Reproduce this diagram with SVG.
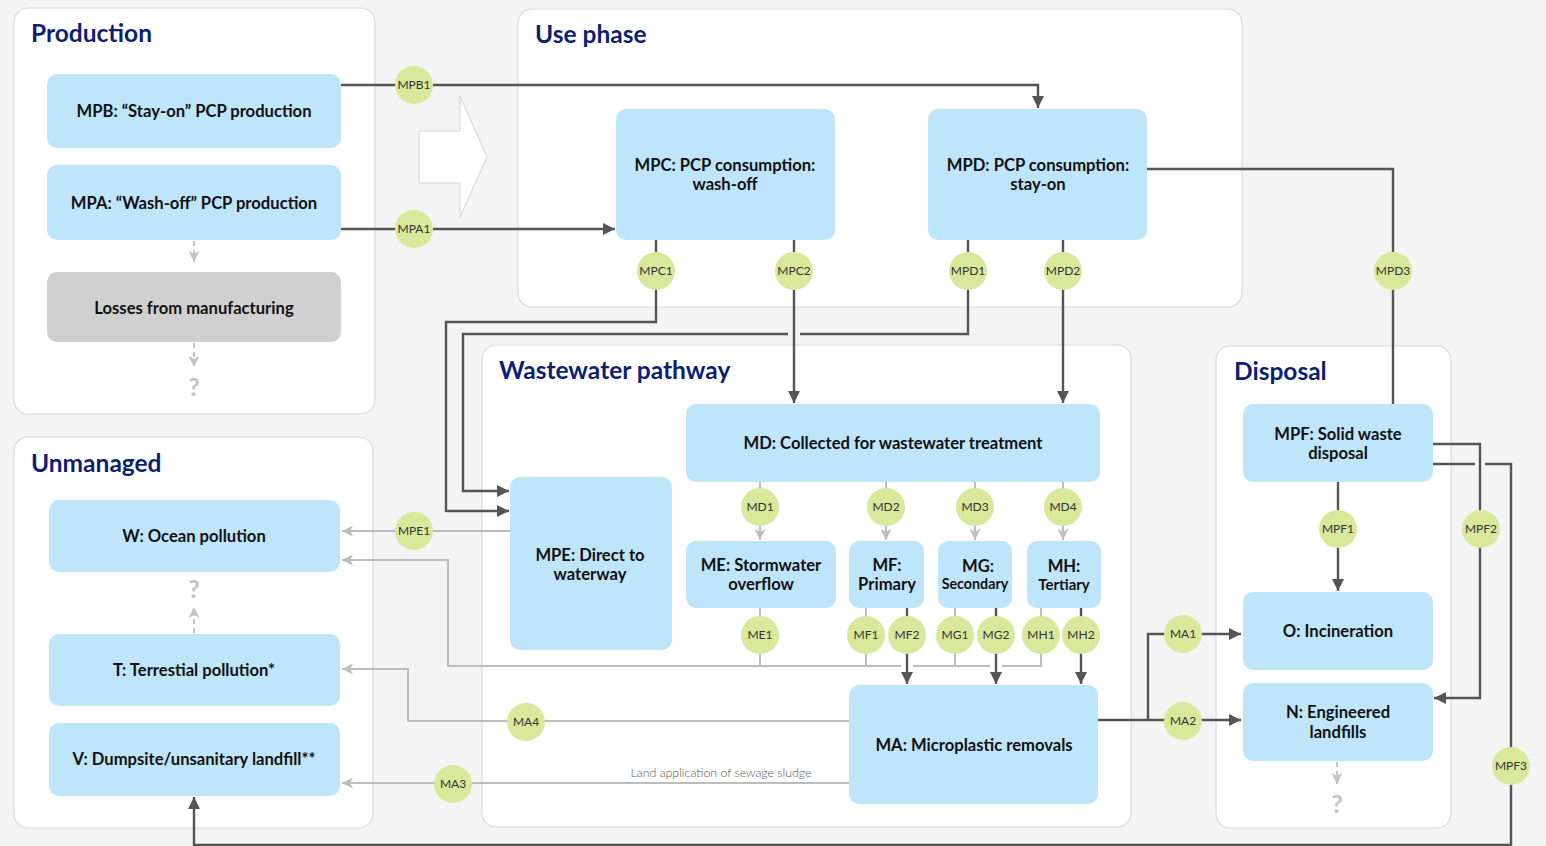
<svg xmlns="http://www.w3.org/2000/svg" width="1546" height="846" viewBox="0 0 1546 846">
<defs>
<style>
.panel{fill:#ffffff;stroke:#d9d9d9;stroke-width:1.2}
.title{font-family:Lato,"Open Sans",sans-serif;font-weight:700;font-size:24.5px;fill:#0d1f73}
.box{fill:#bfe5fb}
.grey{fill:#d0d0d0}
.t{font-family:Lato,"Open Sans",sans-serif;font-weight:700;font-size:16.6px;fill:#111;text-anchor:middle}
.ts{font-size:14.3px}
.c{fill:#d9e89b}
.cl{font-family:Lato,"Open Sans",sans-serif;font-size:12px;fill:#333;text-anchor:middle}
.dk{fill:none;stroke:#555555;stroke-width:2.4}
.lt{fill:none;stroke:#bdbdbd;stroke-width:2}
.ds{fill:none;stroke:#c4c4c4;stroke-width:2;stroke-dasharray:5 4}
.q{font-family:Lato,"Open Sans",sans-serif;font-weight:700;font-size:25px;fill:#c4c4c4;text-anchor:middle}
.note{font-family:Lato,"Open Sans",sans-serif;font-weight:300;font-size:12.3px;fill:#555;text-anchor:middle}
</style>
<marker id="ad" viewBox="0 0 12 12" refX="12" refY="6" markerWidth="12" markerHeight="12" markerUnits="userSpaceOnUse" orient="auto"><path d="M0,0 L12,6 L0,12 z" fill="#555555"/></marker>
<marker id="al" viewBox="0 0 12 12" refX="12" refY="6" markerWidth="11" markerHeight="11" markerUnits="userSpaceOnUse" orient="auto"><path d="M0,0 L12,6 L0,12 L3,6 z" fill="#bdbdbd"/></marker>
<marker id="aq" viewBox="0 0 12 12" refX="12" refY="6" markerWidth="11" markerHeight="11" markerUnits="userSpaceOnUse" orient="auto"><path d="M0,0 L12,6 L0,12 L3,6 z" fill="#c4c4c4"/></marker>
</defs>
<rect x="0" y="0" width="1546" height="846" fill="#f4f4f4"/>

<g id="panels">
<rect class="panel" x="14" y="8" width="361" height="406" rx="14"/>
<rect class="panel" x="518" y="9" width="724" height="298" rx="14"/>
<rect class="panel" x="14" y="437" width="359" height="391" rx="14"/>
<rect class="panel" x="482" y="345" width="649" height="482" rx="14"/>
<rect class="panel" x="1216" y="346" width="235" height="482" rx="14"/>
<text class="title" x="31" y="42">Production</text>
<text class="title" x="535" y="43">Use phase</text>
<text class="title" x="31" y="472">Unmanaged</text>
<text class="title" x="499" y="379">Wastewater pathway</text>
<text class="title" x="1234" y="380">Disposal</text>
<polygon points="419,131 460,131 460,96 487,157 460,217 460,183 419,183" fill="#ffffff" stroke="#d3d3d3" stroke-width="1"/>
</g>

<g id="connectors">
<path class="dk" d="M341,85 H1038 V108" marker-end="url(#ad)"/>
<path class="dk" d="M341,229 H615" marker-end="url(#ad)"/>
<path class="dk" d="M656,240 V322 H446 V511 H509" marker-end="url(#ad)"/>
<path class="dk" d="M968,240 V334 H800"/>
<path class="dk" d="M788,334 H463 V491 H509" marker-end="url(#ad)"/>
<path class="dk" d="M794,240 V403" marker-end="url(#ad)"/>
<path class="dk" d="M1063,240 V403" marker-end="url(#ad)"/>
<path class="dk" d="M1147,169 H1393 V404"/>
<path class="lt" d="M760,482 V540" marker-end="url(#al)"/>
<path class="lt" d="M886,482 V540" marker-end="url(#al)"/>
<path class="lt" d="M975,482 V540" marker-end="url(#al)"/>
<path class="lt" d="M1063,482 V540" marker-end="url(#al)"/>
<path class="lt" d="M760,607 V666"/>
<path class="lt" d="M866,607 V666"/>
<path class="lt" d="M955,607 V666"/>
<path class="lt" d="M1041,607 V666 H1002"/>
<path class="lt" d="M990,666 H913"/>
<path class="lt" d="M901,666 H448 V560 H342" marker-end="url(#al)"/>
<path class="dk" d="M907,607 V684" marker-end="url(#ad)"/>
<path class="dk" d="M996,607 V684" marker-end="url(#ad)"/>
<path class="dk" d="M1081,607 V684" marker-end="url(#ad)"/>
<path class="lt" d="M510,531 H342" marker-end="url(#al)"/>
<path class="lt" d="M849,721 H408 V669 H342" marker-end="url(#al)"/>
<path class="lt" d="M849,783 H342" marker-end="url(#al)"/>
<path class="dk" d="M1098,720 H1241" marker-end="url(#ad)"/>
<path class="dk" d="M1148,720 V634 H1241" marker-end="url(#ad)"/>
<path class="dk" d="M1338,482 V591" marker-end="url(#ad)"/>
<path class="dk" d="M1433,444 H1480 V698 H1434" marker-end="url(#ad)"/>
<path class="dk" d="M1433,464 H1475"/>
<path class="dk" d="M1485,464 H1511 V845 H194 V797" marker-end="url(#ad)"/>
<path class="ds" d="M194,241 V262" marker-end="url(#aq)"/>
<path class="ds" d="M194,343 V367" marker-end="url(#aq)"/>
<path class="ds" d="M194,633 V607" marker-end="url(#aq)"/>
<path class="ds" d="M1337,762 V784" marker-end="url(#aq)"/>
<text class="note" x="721" y="777">Land application of sewage sludge</text>
</g>

<g id="flow-labels">
<circle class="c" cx="414" cy="85" r="19"/><text class="cl" x="414" y="89">MPB1</text>
<circle class="c" cx="414" cy="229" r="19"/><text class="cl" x="414" y="233">MPA1</text>
<circle class="c" cx="656" cy="271" r="19"/><text class="cl" x="656" y="275">MPC1</text>
<circle class="c" cx="794" cy="271" r="19"/><text class="cl" x="794" y="275">MPC2</text>
<circle class="c" cx="968" cy="271" r="19"/><text class="cl" x="968" y="275">MPD1</text>
<circle class="c" cx="1063" cy="271" r="19"/><text class="cl" x="1063" y="275">MPD2</text>
<circle class="c" cx="1393" cy="271" r="19"/><text class="cl" x="1393" y="275">MPD3</text>
<circle class="c" cx="760" cy="507" r="19"/><text class="cl" x="760" y="511">MD1</text>
<circle class="c" cx="886" cy="507" r="19"/><text class="cl" x="886" y="511">MD2</text>
<circle class="c" cx="975" cy="507" r="19"/><text class="cl" x="975" y="511">MD3</text>
<circle class="c" cx="1063" cy="507" r="19"/><text class="cl" x="1063" y="511">MD4</text>
<circle class="c" cx="760" cy="635" r="19"/><text class="cl" x="760" y="639">ME1</text>
<circle class="c" cx="866" cy="635" r="19"/><text class="cl" x="866" y="639">MF1</text>
<circle class="c" cx="907" cy="635" r="19"/><text class="cl" x="907" y="639">MF2</text>
<circle class="c" cx="955" cy="635" r="19"/><text class="cl" x="955" y="639">MG1</text>
<circle class="c" cx="996" cy="635" r="19"/><text class="cl" x="996" y="639">MG2</text>
<circle class="c" cx="1041" cy="635" r="19"/><text class="cl" x="1041" y="639">MH1</text>
<circle class="c" cx="1081" cy="635" r="19"/><text class="cl" x="1081" y="639">MH2</text>
<circle class="c" cx="414" cy="531" r="19"/><text class="cl" x="414" y="535">MPE1</text>
<circle class="c" cx="526" cy="722" r="19"/><text class="cl" x="526" y="726">MA4</text>
<circle class="c" cx="453" cy="784" r="19"/><text class="cl" x="453" y="788">MA3</text>
<circle class="c" cx="1183" cy="634" r="19"/><text class="cl" x="1183" y="638">MA1</text>
<circle class="c" cx="1183" cy="721" r="19"/><text class="cl" x="1183" y="725">MA2</text>
<circle class="c" cx="1338" cy="529" r="19"/><text class="cl" x="1338" y="533">MPF1</text>
<circle class="c" cx="1481" cy="529" r="19"/><text class="cl" x="1481" y="533">MPF2</text>
<circle class="c" cx="1511" cy="766" r="19"/><text class="cl" x="1511" y="770">MPF3</text>
</g>

<g id="MPB"><rect class="box" x="47" y="74" width="294" height="74" rx="10"/><text class="t" x="194" y="117">MPB: “Stay-on” PCP production</text></g>
<g id="MPA"><rect class="box" x="47" y="165" width="294" height="75" rx="10"/><text class="t" x="194" y="209">MPA: “Wash-off” PCP production</text></g>
<g id="Losses"><rect class="grey" x="47" y="272" width="294" height="70" rx="10"/><text class="t" x="194" y="314">Losses from manufacturing</text></g>
<text class="q" x="194" y="396">?</text>
<g id="MPC"><rect class="box" x="616" y="109" width="219" height="131" rx="10"/><text class="t" x="725" y="171">MPC: PCP consumption:</text><text class="t" x="725" y="190">wash-off</text></g>
<g id="MPD"><rect class="box" x="928" y="109" width="219" height="131" rx="10"/><text class="t" x="1038" y="171">MPD: PCP consumption:</text><text class="t" x="1038" y="190">stay-on</text></g>
<g id="MD"><rect class="box" x="686" y="404" width="414" height="78" rx="10"/><text class="t" x="893" y="449">MD: Collected for wastewater treatment</text></g>
<g id="MPE"><rect class="box" x="510" y="477" width="162" height="173" rx="10"/><text class="t" x="590" y="561">MPE: Direct to</text><text class="t" x="590" y="580">waterway</text></g>
<g id="ME"><rect class="box" x="686" y="541" width="150" height="67" rx="10"/><text class="t" x="761" y="571">ME: Stormwater</text><text class="t" x="761" y="590">overflow</text></g>
<g id="MF"><rect class="box" x="849" y="541" width="75" height="67" rx="10"/><text class="t" x="887" y="571">MF:</text><text class="t" x="887" y="590">Primary</text></g>
<g id="MG"><rect class="box" x="938" y="541" width="74" height="67" rx="10"/><text class="t" x="978" y="572">MG:</text><text class="t ts" x="975" y="589">Secondary</text></g>
<g id="MH"><rect class="box" x="1027" y="541" width="74" height="67" rx="10"/><text class="t" x="1064" y="572">MH:</text><text class="t" x="1064" y="590" style="font-size:15px">Tertiary</text></g>
<g id="MA"><rect class="box" x="849" y="685" width="249" height="119" rx="10"/><text class="t" x="974" y="751">MA: Microplastic removals</text></g>
<g id="W"><rect class="box" x="49" y="500" width="291" height="72" rx="10"/><text class="t" x="194" y="542">W: Ocean pollution</text></g>
<text class="q" x="194" y="598">?</text>
<g id="T"><rect class="box" x="49" y="634" width="291" height="72" rx="10"/><text class="t" x="194" y="676">T: Terrestial pollution*</text></g>
<g id="V"><rect class="box" x="49" y="723" width="291" height="73" rx="10"/><text class="t" x="194" y="765">V: Dumpsite/unsanitary landfill**</text></g>
<g id="MPF"><rect class="box" x="1243" y="404" width="190" height="78" rx="10"/><text class="t" x="1338" y="440">MPF: Solid waste</text><text class="t" x="1338" y="459">disposal</text></g>
<g id="O"><rect class="box" x="1243" y="592" width="190" height="78" rx="10"/><text class="t" x="1338" y="637">O: Incineration</text></g>
<g id="N"><rect class="box" x="1243" y="683" width="190" height="78" rx="10"/><text class="t" x="1338" y="718">N: Engineered</text><text class="t" x="1338" y="738">landfills</text></g>
<text class="q" x="1337" y="813">?</text>
</svg>
